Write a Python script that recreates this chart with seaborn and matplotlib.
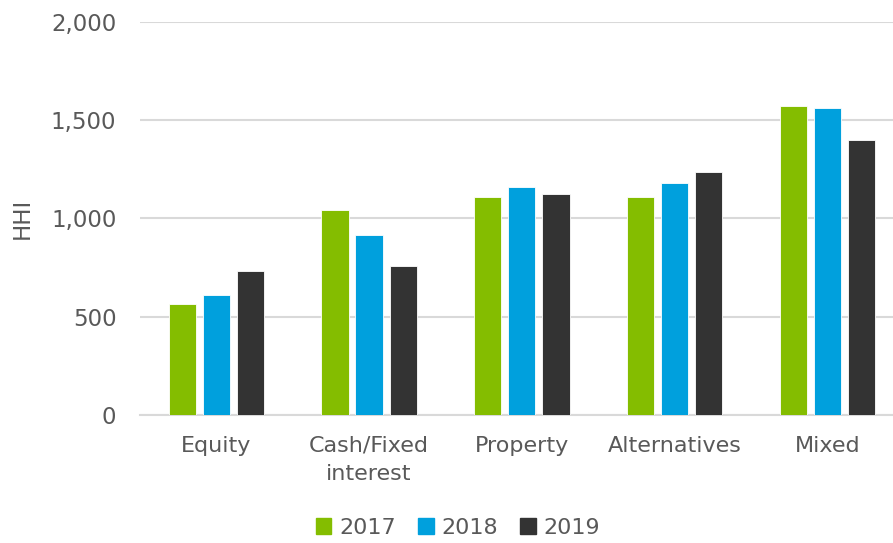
import matplotlib
matplotlib.use('Agg')
import matplotlib.pyplot as plt
import seaborn as sns
import pandas as pd

categories = ['Equity', 'Cash/Fixed\ninterest', 'Property', 'Alternatives', 'Mixed']
years = ['2017', '2018', '2019']
hhi_2017 = [562, 1041, 1108, 1108, 1568]
hhi_2018 = [609, 917, 1161, 1181, 1558]
hhi_2019 = [733, 758, 1125, 1237, 1399]
colors = ['#84BD00', '#00A0DD', '#333333']

rows = []
for yr, vals in zip(years, [hhi_2017, hhi_2018, hhi_2019]):
    for cat, v in zip(categories, vals):
        rows.append({'category': cat, 'year': yr, 'hhi': v})
df = pd.DataFrame(rows)

sns.set_theme(style='white')
plt.rcParams['font.family'] = ['DejaVu Sans']
text_col = '#595959'

fig = plt.figure(figsize=(8.93, 5.43), dpi=100)
ax = fig.add_axes([140 / 893, 1 - 415 / 543, 753 / 893, (415 - 21.5) / 543])

sns.barplot(data=df, x='category', y='hhi', hue='year', order=categories,
            hue_order=years, palette=colors, saturation=1, width=0.67, gap=0.2,
            edgecolor='white', linewidth=0.6, ax=ax, zorder=3)

ax.set_ylim(0, 2000)
ax.set_xlim(-0.5, 4.43)
ax.set_yticks([0, 500, 1000, 1500, 2000])
ax.set_yticklabels(['0', '500', '1,000', '1,500', '2,000'])
ax.yaxis.grid(True, color='#d9d9d9', linewidth=1.5, zorder=0)
ax.set_axisbelow(True)
for s in ['top', 'right', 'left']:
    ax.spines[s].set_visible(False)
ax.spines['bottom'].set_color('#d9d9d9')
ax.spines['bottom'].set_linewidth(1.5)

ax.tick_params(axis='y', length=0, pad=17, labelsize=16.5, labelcolor=text_col)
ax.tick_params(axis='x', length=0, pad=15, labelsize=16, labelcolor=text_col)
for lbl in ax.get_xticklabels():
    lbl.set_linespacing(1.5)
ax.set_xlabel('')
ax.set_ylabel('HHI', fontsize=16.5, color=text_col, labelpad=12)

ax.legend_.remove()
handles = [plt.Rectangle((0, 0), 1, 1, color=c) for c in colors]
fig.legend(handles, years, loc='center', bbox_to_anchor=(458 / 893, 1 - 528 / 543),
           ncol=3, frameon=False, fontsize=16, labelcolor=text_col,
           handlelength=0.7, handleheight=0.7, handletextpad=0.35, columnspacing=1.0)

fig.savefig('out.png', dpi=100)
